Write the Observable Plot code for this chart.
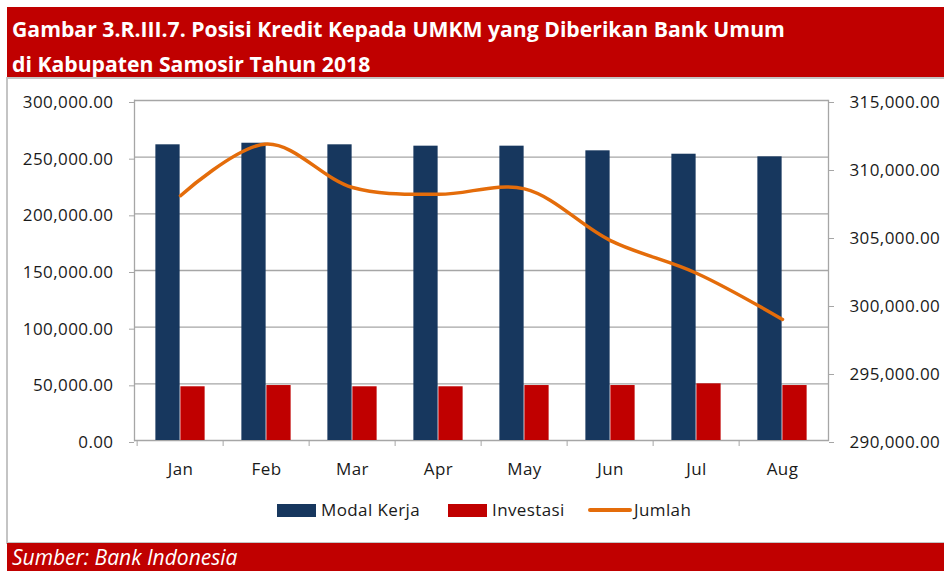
<!DOCTYPE html>
<html><head><meta charset="utf-8">
<script src="https://cdn.jsdelivr.net/npm/d3@7"></script>
<script src="https://cdn.jsdelivr.net/npm/@observablehq/plot@0.6"></script>
<style>
body{margin:0;background:#fff;width:944px;height:571px;overflow:hidden;position:relative;font-family:"Open Sans",Lato,sans-serif;}
#title{position:absolute;left:7px;top:7px;width:937px;height:70px;background:#C00000;color:#fff;font-weight:bold;font-size:21.2px;line-height:35px;padding:4px 0 0 5px;box-sizing:border-box;white-space:nowrap;}
#box{position:absolute;left:6px;top:77px;width:938px;height:467px;border:2px solid #c4c4c4;border-right:none;box-sizing:border-box;}
#chart{position:absolute;left:0;top:78px;}
#chart svg{display:block;}
#footer{position:absolute;left:7px;top:543px;width:937px;height:28px;background:#C00000;color:#fff;font-style:italic;font-size:21px;line-height:28px;padding-left:5px;box-sizing:border-box;white-space:nowrap;}
.lg{position:absolute;font-size:17px;letter-spacing:0.4px;color:#1a1a1a;line-height:20px;top:500px;}
.sw{position:absolute;}
</style></head>
<body>
<div id="title"></div>
<div id="box"></div>
<div id="chart"></div>
<div id="legend"></div>
<div id="footer"></div>
<script>
const titleLines = ["Gambar 3.R.III.7. Posisi Kredit Kepada UMKM yang Diberikan Bank Umum", "di Kabupaten Samosir Tahun 2018"];
const sourceText = "Sumber: Bank Indonesia";
const months = ["Jan","Feb","Mar","Apr","May","Jun","Jul","Aug"];
const seriesNames = ["Modal Kerja","Investasi","Jumlah"];
const modalKerja = [260900, 262300, 260900, 259700, 259700, 255600, 252600, 250300];
const investasi  = [47400, 48500, 47400, 47400, 48500, 48500, 50000, 48500];
const jumlah     = [308000, 311800, 308600, 308100, 308500, 304700, 302300, 298900];
const leftTicks  = [0, 50000, 100000, 150000, 200000, 250000, 300000];
const rightTicks = [290000, 295000, 300000, 305000, 310000, 315000];
const colors = ["#17375E", "#C00000", "#E46C0A"];

document.getElementById("title").innerHTML = titleLines.join("<br>");
document.getElementById("footer").textContent = sourceText;

const leftMax = leftTicks[leftTicks.length-1];
const rMin = rightTicks[0], rMax = rightTicks[rightTicks.length-1];
const k = leftMax / (rMax - rMin);
const toLeft = v => (v - rMin) * k;
const fmt = d3.format(",.2f");

const rows = months.map((m, i) => ({month: m, modal: modalKerja[i], inv: investasi[i], jml: jumlah[i]}));

const W = 944, H = 466, mL = 134, mR = 116, mT = 22, mB = 104;
const bw = (W - mL - mR) / months.length;
const barW = 25;
const gap = (bw - 2 * barW) / 2;
const grey = "#a6a6a6";

const chart = Plot.plot({
  width: W, height: H, marginLeft: mL, marginRight: mR, marginTop: mT, marginBottom: mB,
  x: {domain: months, padding: 0, axis: null},
  y: {domain: [0, leftMax], axis: null},
  style: {fontFamily: "'Open Sans', Lato, sans-serif", fontSize: "17px", color: "#1a1a1a", background: "transparent", overflow: "visible", letterSpacing: "0.4px"},
  marks: [
    Plot.gridY(leftTicks, {stroke: grey, strokeOpacity: 1, strokeWidth: 1.3}),
    Plot.barY(rows, {x: "month", y: "modal", fill: colors[0], insetLeft: gap, insetRight: bw / 2}),
    Plot.barY(rows, {x: "month", y: "inv", fill: colors[1], insetLeft: bw / 2, insetRight: gap}),
    Plot.line(rows, {x: "month", y: d => toLeft(d.jml), stroke: colors[2], strokeWidth: 3.5, curve: "catmull-rom"}),
    Plot.frame({anchor: "left", stroke: grey, strokeWidth: 1.3}),
    Plot.frame({anchor: "right", stroke: grey, strokeWidth: 1.3}),
    Plot.axisY(leftTicks, {anchor: "left", tickSize: 5, tickPadding: 16, dy: 2, tickFormat: fmt, stroke: grey, label: null}),
    Plot.axisY(rightTicks.map(toLeft), {anchor: "right", tickSize: 5, tickPadding: 16, dy: 2, tickFormat: d => fmt(d / k + rMin), stroke: grey, label: null}),
    Plot.axisX(months, {anchor: "bottom", tickSize: 0, tickPadding: 22, label: null}),
    Plot.axisX(months, {anchor: "bottom", tickSize: 6, tickFormat: () => "", dx: -bw / 2, stroke: grey, label: null})
  ]
});
document.getElementById("chart").append(chart);

// legend
const legend = document.getElementById("legend");
const items = [
  {name: seriesNames[0], color: colors[0], type: "rect", left: 277},
  {name: seriesNames[1], color: colors[1], type: "rect", left: 448},
  {name: seriesNames[2], color: colors[2], type: "line", left: 588}
];
for (const it of items) {
  const sw = document.createElement("div");
  sw.className = "sw";
  if (it.type === "rect") {
    Object.assign(sw.style, {left: it.left + "px", top: "504px", width: "39px", height: "13px", background: it.color});
  } else {
    Object.assign(sw.style, {left: it.left + "px", top: "508px", width: "44px", height: "3.5px", background: it.color, borderRadius: "2px"});
  }
  legend.append(sw);
  const t = document.createElement("div");
  t.className = "lg";
  t.style.left = (it.left + (it.type === "rect" ? 44 : 46)) + "px";
  t.textContent = it.name;
  legend.append(t);
}
</script>
</body></html>
